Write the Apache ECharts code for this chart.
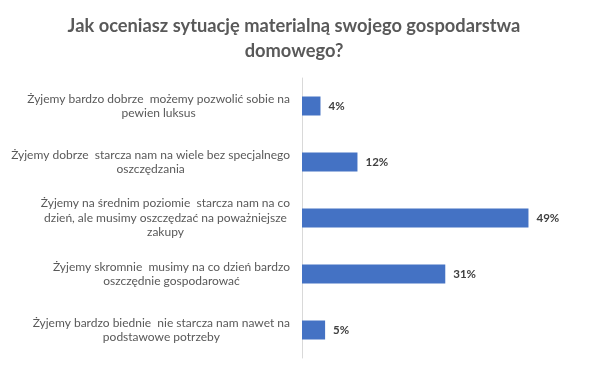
<!DOCTYPE html>
<html>
<head>
<meta charset="utf-8">
<script src="https://cdn.jsdelivr.net/npm/echarts@6/dist/echarts.min.js"></script>
<style>html,body{margin:0;padding:0;background:#fff}#c{width:600px;height:375px}</style>
</head>
<body>
<div id="c"></div>
<script>
const titleText = "Jak oceniasz sytuację materialną swojego gospodarstwa\ndomowego?";
const categories = [
  "Żyjemy bardzo dobrze  możemy pozwolić sobie na\npewien luksus",
  "Żyjemy dobrze  starcza nam na wiele bez specjalnego\noszczędzania",
  "Żyjemy na średnim poziomie  starcza nam na co\ndzień, ale musimy oszczędzać na poważniejsze\nzakupy",
  "Żyjemy skromnie  musimy na co dzień bardzo\noszczędnie gospodarować",
  "Żyjemy bardzo biednie  nie starcza nam nawet na\npodstawowe potrzeby"
];
const values = [4, 12, 49, 31, 5];

const chart = echarts.init(document.getElementById('c'), null, {renderer: 'canvas'});
chart.setOption({
  animation: false,
  title: {
    text: titleText,
    left: 289,
    textAlign: 'center',
    top: 9,
    textStyle: {fontFamily: 'Lato', fontSize: 18.3, fontWeight: 'bold', color: '#595959', lineHeight: 25}
  },
  grid: {left: 302, right: 23, top: 78, bottom: 17, containLabel: false},
  xAxis: {
    type: 'value', min: 0, max: 59.5, show: false
  },
  yAxis: {
    type: 'category',
    inverse: true,
    data: categories,
    axisLine: {show: true, lineStyle: {color: '#d9d9d9', width: 1}},
    axisTick: {show: false},
    axisLabel: {
      margin: 12,
      align: 'right',
      formatter: function (v) {
        return v.split('\n').map(s => '{c|' + s + '}').join('\n');
      },
      rich: {
        c: {align: 'center', fontFamily: 'Lato', fontSize: 12, color: '#595959', lineHeight: 14.5}
      }
    }
  },
  series: [{
    type: 'bar',
    data: values,
    barWidth: 19,
    itemStyle: {color: '#4472C4'},
    label: {
      show: true, position: 'right', distance: 8,
      formatter: '{c}%',
      fontFamily: 'Lato', fontSize: 11.5, fontWeight: 'bold', color: '#404040'
    }
  }]
});
</script>
</body>
</html>
